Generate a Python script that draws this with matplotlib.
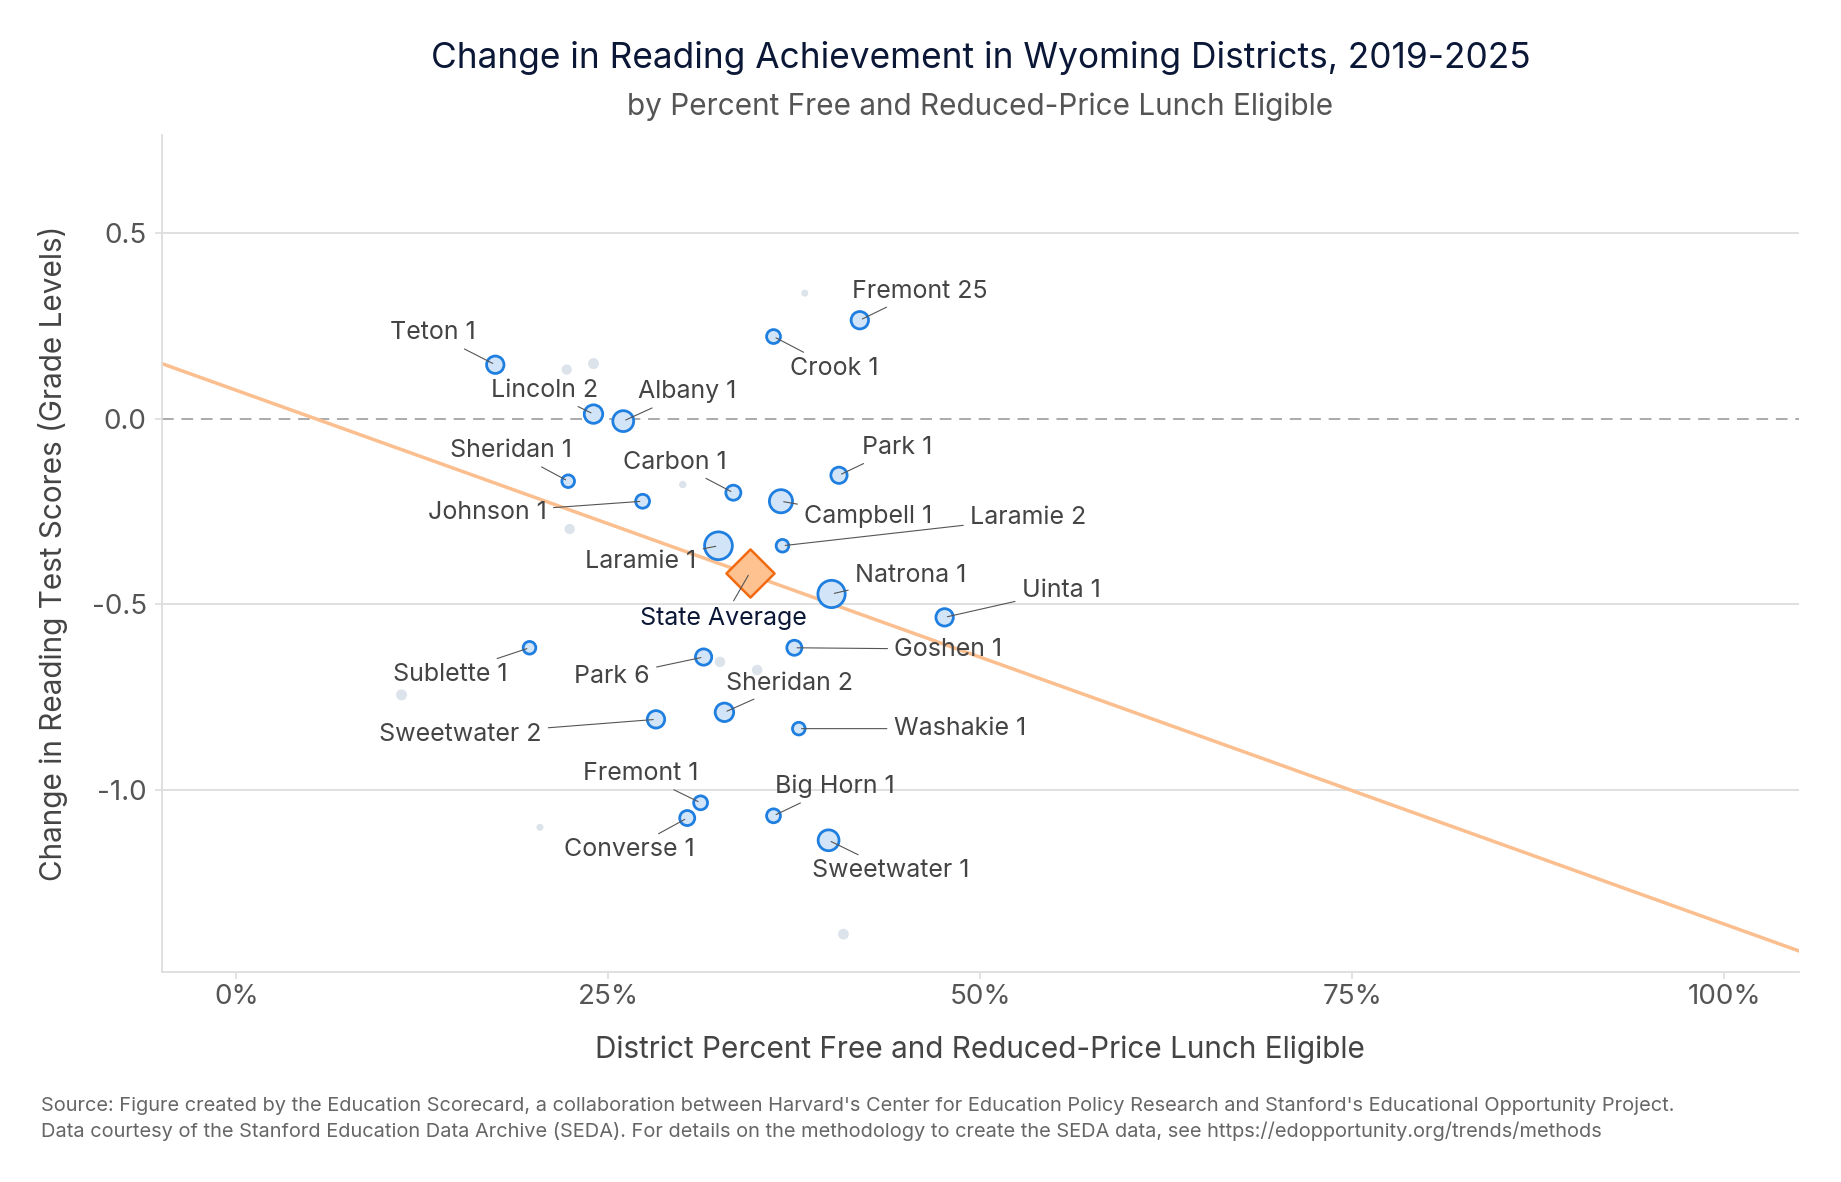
import matplotlib
matplotlib.use("Agg")
import matplotlib.pyplot as plt
import numpy as np

plt.rcParams['font.family'] = ['Inter', 'DejaVu Sans']

# ---- data ----
districts = ["Teton 1", "Lincoln 2", "Albany 1", "Crook 1", "Fremont 25", "Sheridan 1",
             "Carbon 1", "Park 1", "Johnson 1", "Campbell 1", "Laramie 2", "Laramie 1",
             "Natrona 1", "Uinta 1", "Sublette 1", "Park 6", "Goshen 1", "Sheridan 2",
             "Sweetwater 2", "Washakie 1", "Fremont 1", "Converse 1", "Big Horn 1",
             "Sweetwater 1"]
frl = [0.174, 0.240, 0.260, 0.361, 0.419, 0.223,
       0.334, 0.405, 0.273, 0.366, 0.367, 0.324,
       0.400, 0.476, 0.197, 0.314, 0.375, 0.328,
       0.282, 0.378, 0.312, 0.303, 0.361,
       0.398]
change = [0.146, 0.013, -0.006, 0.222, 0.266, -0.168,
          -0.199, -0.152, -0.222, -0.222, -0.342, -0.342,
          -0.472, -0.535, -0.617, -0.642, -0.617, -0.791,
          -0.810, -0.835, -1.035, -1.076, -1.070,
          -1.136]
enrollment = [5500, 6200, 7900, 3500, 5500, 2900,
              4100, 4800, 3500, 9700, 2900, 14000,
              13500, 5500, 2900, 4800, 4100, 6200,
              5500, 2900, 3500, 4100, 3500,
              7900]

other_frl = [0.382, 0.222, 0.240, 0.300, 0.224, 0.111, 0.325, 0.350, 0.204, 0.408]
other_change = [0.339, 0.133, 0.149, -0.177, -0.297, -0.744, -0.655, -0.677, -1.101, -1.389]
other_enrollment = [900, 1900, 2200, 1000, 1900, 2200, 2000, 2000, 900, 2100]

state_frl = [0.345]
state_change = [-0.415]

trend_intercept = 0.077
trend_slope = -1.439

xticks = [0, 0.25, 0.5, 0.75, 1.0]
xticklabels = ["0%", "25%", "50%", "75%", "100%"]
yticks = [-1.0, -0.5, 0.0, 0.5]
yticklabels = ["-1.0", "-0.5", "0.0", "0.5"]

# ---- layout (label offsets in points) ----
label_offsets = {
    "Teton 1": (-45, 23), "Lincoln 2": (-35, 17), "Albany 1": (46, 21),
    "Crook 1": (44, -23), "Fremont 25": (43, 21), "Sheridan 1": (-41, 22),
    "Carbon 1": (-42, 22), "Park 1": (42, 20), "Johnson 1": (-112, -8),
    "Campbell 1": (63, -11), "Laramie 2": (177, 20), "Laramie 1": (-56, -11),
    "Natrona 1": (57, 13), "Uinta 1": (84, 19), "Sublette 1": (-57, -19),
    "Park 6": (-66, -14), "Goshen 1": (111, -1), "Sheridan 2": (47, 21),
    "Sweetwater 2": (-141, -11), "Washakie 1": (116, 0), "Fremont 1": (-43, 21),
    "Converse 1": (-42, -23), "Big Horn 1": (44, 21), "Sweetwater 1": (45, -22),
}

fig = plt.figure(figsize=(18.41, 11.82), dpi=100)
ax = fig.add_axes([0.088, 0.178, 0.889, 0.708])

xlim = (-0.05, 1.05)
ylim = (-1.49, 0.766)
ax.set_xlim(*xlim)
ax.set_ylim(*ylim)

# grid
for yv in yticks:
    if yv == 0:
        ax.axhline(yv, color="#aaaaaa", lw=1.4, ls=(0, (6, 4)), zorder=1)
    else:
        ax.axhline(yv, color="#dddddd", lw=1.3, zorder=0)

# trend line
xs = np.array(xlim)
ax.plot(xs, trend_intercept + trend_slope * xs, color="#fbbf8f", lw=2.5, zorder=2)

# others
scale = 400 / 14000
ax.scatter(other_frl, other_change, s=np.array(other_enrollment) * scale,
           color="#dde3eb", edgecolor="none", zorder=3)

# districts
ax.scatter(frl, change, s=np.array(enrollment) * scale, facecolor="#d2e5f8",
           edgecolor="#1f7fe0", lw=2.0, zorder=4)

# state average
ax.scatter(state_frl, state_change, s=600, marker="D", facecolor="#fdc28f",
           edgecolor="#f06a0f", lw=1.8, zorder=5)

LABEL_FS = 18
for name, x, y in zip(districts, frl, change):
    dx, dy = label_offsets[name]
    ax.annotate(name, (x, y), xytext=(dx, dy), textcoords="offset points",
                ha="center", va="center", fontsize=LABEL_FS, color="#444444",
                arrowprops=dict(arrowstyle="-", color="#555555", lw=0.8,
                                shrinkA=3, shrinkB=2), zorder=6)

ax.annotate("State Average", (state_frl[0], state_change[0]), xytext=(-19, -33),
            textcoords="offset points", ha="center", va="center", fontsize=LABEL_FS,
            color="#0b1736",
            arrowprops=dict(arrowstyle="-", color="#555555", lw=0.8,
                            shrinkA=3, shrinkB=2), zorder=6)

ax.set_xticks(xticks)
ax.set_xticklabels(xticklabels)
ax.set_yticks(yticks)
ax.set_yticklabels(yticklabels)
ax.tick_params(axis="both", colors="#dddddd", labelcolor="#555555", labelsize=20,
               length=5, width=1.2)
ax.tick_params(axis="x", pad=4)
ax.tick_params(axis="y", pad=6)

for side in ["top", "right"]:
    ax.spines[side].set_visible(False)
for side in ["left", "bottom"]:
    ax.spines[side].set_color("#dddddd")
    ax.spines[side].set_linewidth(1.3)

ax.set_xlabel("District Percent Free and Reduced-Price Lunch Eligible",
              fontsize=21.4, color="#444444", labelpad=18)
ax.set_ylabel("Change in Reading Test Scores (Grade Levels)", fontsize=21.4,
              color="#444444", labelpad=17)

cx = 0.088 + 0.889 / 2
fig.text(cx, 0.951, "Change in Reading Achievement in Wyoming Districts, 2019-2025",
         ha="center", va="center", fontsize=25.4, color="#0b1736")
fig.text(cx, 0.910, "by Percent Free and Reduced-Price Lunch Eligible",
         ha="center", va="center", fontsize=21.4, color="#555555")

fig.text(0.022, 0.064,
         "Source: Figure created by the Education Scorecard, a collaboration between Harvard's Center for Education Policy Research and Stanford's Educational Opportunity Project.",
         ha="left", va="center", fontsize=14.4, color="#666666")
fig.text(0.022, 0.043,
         "Data courtesy of the Stanford Education Data Archive (SEDA). For details on the methodology to create the SEDA data, see https://edopportunity.org/trends/methods",
         ha="left", va="center", fontsize=14.4, color="#666666")

fig.savefig("out.png", dpi=100)
